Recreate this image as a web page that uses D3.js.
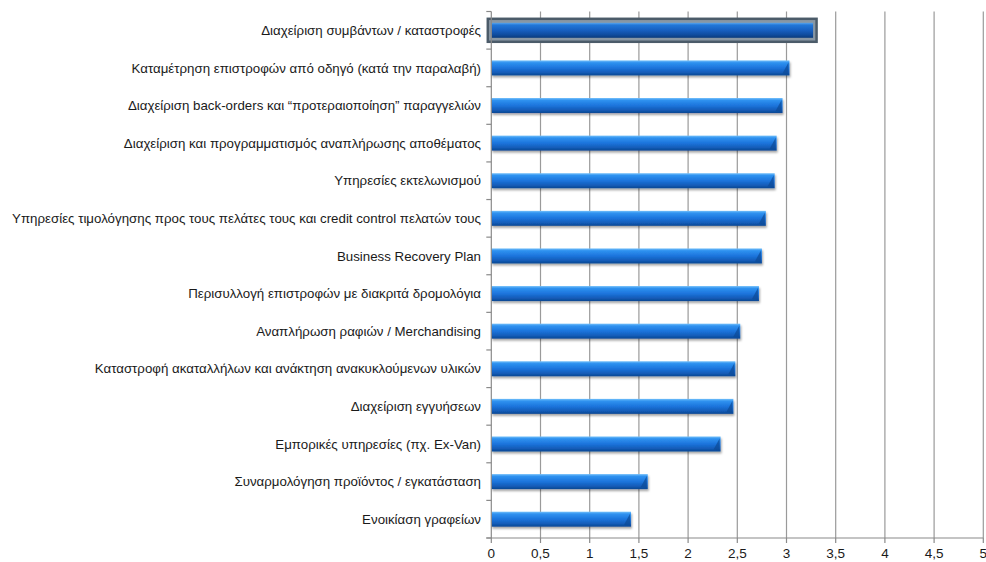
<!DOCTYPE html>
<html><head><meta charset="utf-8">
<script src="https://cdn.jsdelivr.net/npm/d3@7"></script>
<style>body{margin:0;background:#fff}svg{display:block}</style>
</head><body>
<script>
const categories = [
  "Διαχείριση συμβάντων / καταστροφές",
  "Καταμέτρηση επιστροφών από οδηγό (κατά την παραλαβή)",
  "Διαχείριση back-orders και “προτεραιοποίηση” παραγγελιών",
  "Διαχείριση και προγραμματισμός αναπλήρωσης αποθέματος",
  "Υπηρεσίες εκτελωνισμού",
  "Υπηρεσίες τιμολόγησης προς τους πελάτες τους και credit control πελατών τους",
  "Business Recovery Plan",
  "Περισυλλογή επιστροφών με διακριτά δρομολόγια",
  "Αναπλήρωση ραφιών / Merchandising",
  "Καταστροφή ακαταλλήλων και ανάκτηση ανακυκλούμενων υλικών",
  "Διαχείριση εγγυήσεων",
  "Εμπορικές υπηρεσίες (πχ. Ex-Van)",
  "Συναρμολόγηση προϊόντος / εγκατάσταση",
  "Ενοικίαση γραφείων"
];
const values = [3.27, 3.03, 2.96, 2.90, 2.88, 2.79, 2.75, 2.72, 2.53, 2.48, 2.46, 2.33, 1.59, 1.42];
const tickValues = [0, 0.5, 1, 1.5, 2, 2.5, 3, 3.5, 4, 4.5, 5];
const tickLabels = ["0", "0,5", "1", "1,5", "2", "2,5", "3", "3,5", "4", "4,5", "5"];

const W = 986, H = 562;
const svg = d3.select("body").append("svg").attr("width", W).attr("height", H);
const defs = svg.append("defs");
const g1 = defs.append("linearGradient").attr("id","barg").attr("x1",0).attr("y1",0).attr("x2",0).attr("y2",1);
[[0,"#74c0fa"],[0.15,"#2f92f0"],[0.5,"#1c74dc"],[0.8,"#135cb8"],[1,"#0b4792"]].forEach(([o,c])=>g1.append("stop").attr("offset",o).attr("stop-color",c));
const g2 = defs.append("linearGradient").attr("id","barsel").attr("x1",0).attr("y1",0).attr("x2",0).attr("y2",1);
[[0,"#5aa6ee"],[0.15,"#2277d8"],[0.5,"#175fc0"],[0.8,"#0f4c9e"],[1,"#0a3b7c"]].forEach(([o,c])=>g2.append("stop").attr("offset",o).attr("stop-color",c));
const f = defs.append("filter").attr("id","sh").attr("x","-5%").attr("y","-30%").attr("width","110%").attr("height","180%");
f.append("feDropShadow").attr("dx",1).attr("dy",2).attr("stdDeviation",1.2).attr("flood-color","#000").attr("flood-opacity",0.35);

const x = d3.scaleLinear().domain([0,5]).range([491.3, 983.3]);
const yb = d3.scaleBand().domain(categories).range([11.5, 538]);

// gridlines
svg.append("g").selectAll("line").data(tickValues.slice(1)).join("line")
  .attr("x1", d=>x(d)).attr("x2", d=>x(d)).attr("y1", 11.5).attr("y2", 538)
  .attr("stroke", "#9a9a9a").attr("stroke-width", 1.2);

// bars
const bars = svg.append("g");
categories.forEach((c,i)=>{
  const v = values[i];
  const bh = 15;
  const yc = yb(c) + yb.bandwidth()/2;
  const y0 = yc - bh/2;
  if (i === 0) {
    bars.append("rect").attr("x", x(0)-3.5).attr("y", y0-4).attr("width", x(v)-x(0)+7).attr("height", bh+8)
      .attr("fill", "#8897a4").attr("stroke", "#4b5b69").attr("stroke-width", 2.5);
    bars.append("rect").attr("x", x(0)).attr("y", y0).attr("width", x(v)-x(0)).attr("height", bh)
      .attr("fill", "url(#barsel)");
  } else {
    bars.append("rect").attr("x", x(0)).attr("y", y0).attr("width", x(v)-x(0)).attr("height", bh)
      .attr("fill", "url(#barg)").attr("filter","url(#sh)");
    bars.append("path").attr("d", `M${x(v)-7},${y0+bh-2} L${x(v)-1},${y0+2} L${x(v)-1},${y0+bh-1} Z`)
      .attr("fill", "#0d4a96").attr("opacity", 0.7);
  }
});

// left axis
const ax = svg.append("g");
ax.append("line").attr("x1", x(0)).attr("x2", x(0)).attr("y1", 11.5).attr("y2", 538).attr("stroke","#8a8a8a").attr("stroke-width",1.2);
ax.selectAll("line.tk").data(categories.concat(["_end"])).join("line").attr("class","tk")
  .attr("x1", x(0)-5).attr("x2", x(0)).attr("y1", (d,i)=> 11.5 + i*yb.step()).attr("y2", (d,i)=> 11.5 + i*yb.step())
  .attr("stroke","#8a8a8a").attr("stroke-width",1.2);
ax.selectAll("text").data(categories).join("text")
  .attr("x", 481).attr("y", d=> yb(d)+yb.bandwidth()/2).attr("dy","0.35em")
  .attr("text-anchor","end").attr("font-family","Liberation Sans, Arial, sans-serif").attr("font-size",13.3)
  .attr("fill","#1a1a1a").text(d=>d);

// bottom axis
const bx = svg.append("g");
bx.append("line").attr("x1", x(0)-5).attr("x2", x(5)).attr("y1", 538).attr("y2", 538).attr("stroke","#8a8a8a").attr("stroke-width",1.2);
bx.selectAll("line.tk").data(tickValues).join("line").attr("class","tk")
  .attr("x1", d=>x(d)).attr("x2", d=>x(d)).attr("y1", 538).attr("y2", 543).attr("stroke","#8a8a8a").attr("stroke-width",1.2);
bx.selectAll("text").data(tickValues).join("text")
  .attr("x", d=>x(d)).attr("y", 553).attr("dy","0.35em").attr("text-anchor","middle")
  .attr("font-family","Liberation Sans, Arial, sans-serif").attr("font-size",13.5).attr("fill","#1a1a1a")
  .text((d,i)=>tickLabels[i]);
</script>
</body></html>
